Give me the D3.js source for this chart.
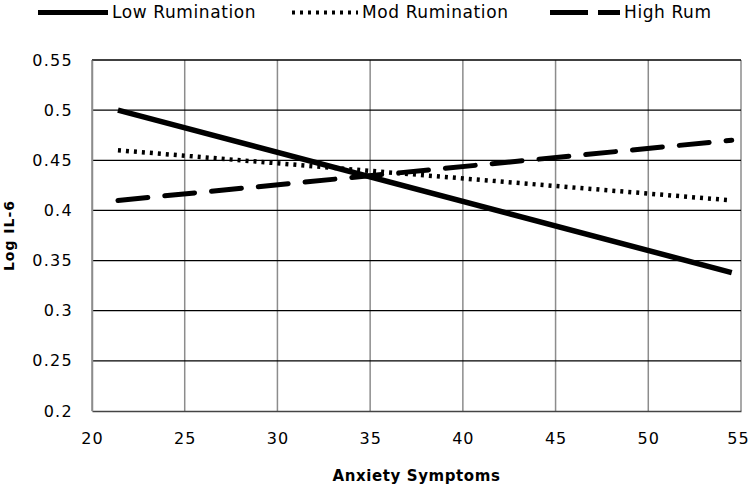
<!DOCTYPE html>
<html><head><meta charset="utf-8">
<script src="https://cdn.jsdelivr.net/npm/d3@7/dist/d3.min.js"></script>
<style>body{margin:0;background:#fff}svg{display:block}text{font-family:"DejaVu Sans",sans-serif}</style>
</head><body>
<script>
const seriesNames = ["Low Rumination", "Mod Rumination", "High Rum"];
const xStart = [21.4, 21.4, 21.4];
const xEnd = [54.5, 54.5, 54.5];
const lowVals = [0.500, 0.338];
const modVals = [0.460, 0.410];
const highVals = [0.410, 0.470];
const xTicks = [20, 25, 30, 35, 40, 45, 50, 55];
const yTicks = [0.2, 0.25, 0.3, 0.35, 0.4, 0.45, 0.5, 0.55];
const yTickLabels = ["0.2", "0.25", "0.3", "0.35", "0.4", "0.45", "0.5", "0.55"];

const W = 750, H = 488;
const m = {left: 92, right: 9, top: 60, bottom: 77};
const svg = d3.select("body").append("svg").attr("width", W).attr("height", H);
const x = d3.scaleLinear().domain([20, 55]).range([m.left, W - m.right]);
const y = d3.scaleLinear().domain([0.2, 0.55]).range([H - m.bottom, m.top]);

// vertical grid
svg.append("g").selectAll("line").data(xTicks).join("line")
  .attr("x1", d => x(d)).attr("x2", d => x(d))
  .attr("y1", y(0.55)).attr("y2", y(0.2))
  .attr("stroke", "#8c8c8c").attr("stroke-width", 1.5);
// horizontal grid
svg.append("g").selectAll("line").data(yTicks.slice(1)).join("line")
  .attr("x1", x(20)).attr("x2", x(55))
  .attr("y1", d => y(d)).attr("y2", d => y(d))
  .attr("stroke", "#000").attr("stroke-width", 1.3);

// axes
const xAxis = svg.append("g").attr("transform", `translate(0,${y(0.2)})`)
  .call(d3.axisBottom(x).tickValues(xTicks).tickSize(0).tickPadding(22));
xAxis.select(".domain").attr("stroke", "#444").attr("stroke-width", 1.5);
xAxis.selectAll("text").attr("font-size", 16).attr("letter-spacing", 1)
  .attr("font-family", "DejaVu Sans").attr("fill", "#000")
  .attr("dx", d => d === 55 ? -3 : 0);
const yAxis = svg.append("g").attr("transform", `translate(${x(20)},0)`)
  .call(d3.axisLeft(y).tickValues(yTicks).tickFormat((d, i) => yTickLabels[i]).tickSize(0).tickPadding(19));
yAxis.select(".domain").attr("stroke", "#8c8c8c").attr("stroke-width", 1.5);
yAxis.selectAll("text").attr("font-size", 16).attr("letter-spacing", 1.3)
  .attr("font-family", "DejaVu Sans").attr("fill", "#000");

// titles
svg.append("text").attr("x", x(37.5)).attr("y", 481).attr("text-anchor", "middle")
  .attr("font-size", 15).attr("font-weight", "bold").attr("letter-spacing", 0.6).text("Anxiety Symptoms");
svg.append("text").attr("transform", `translate(14,${y(0.375)}) rotate(-90)`).attr("text-anchor", "middle")
  .attr("font-size", 14).attr("font-weight", "bold").attr("letter-spacing", 1).text("Log IL-6");

const styles = [
  {dash: null, width: 5.5, cap: "butt"},
  {dash: "3,5", width: 4.5, cap: "butt"},
  {dash: "30,17", width: 5, cap: "round"}
];
const legDash = [null, "3,5", "38,10"];
const vals = [lowVals, modVals, highVals];
const line = d3.line().x(d => x(d[0])).y(d => y(d[1]));
vals.forEach((v, i) => {
  const pts = [[xStart[i], v[0]], [xEnd[i], v[1]]];
  svg.append("path").attr("d", line(pts)).attr("fill", "none").attr("stroke", "#000")
    .attr("stroke-width", styles[i].width).attr("stroke-linecap", styles[i].cap)
    .attr("stroke-dasharray", styles[i].dash);
});

// legend
const legX = [38, 292, 550];
const legLen = [70, 66, 70];
const lg = svg.append("g");
seriesNames.forEach((n, i) => {
  lg.append("line").attr("x1", legX[i]).attr("x2", legX[i] + legLen[i]).attr("y1", 12.5).attr("y2", 12.5)
    .attr("stroke", "#000").attr("stroke-width", i === 1 ? 4 : 5)
    .attr("stroke-dasharray", legDash[i]);
  lg.append("text").attr("x", legX[i] + legLen[i] + 4).attr("y", 18).attr("font-size", 17)
    .attr("letter-spacing", 0.6).text(n);
});
</script>
</body></html>
